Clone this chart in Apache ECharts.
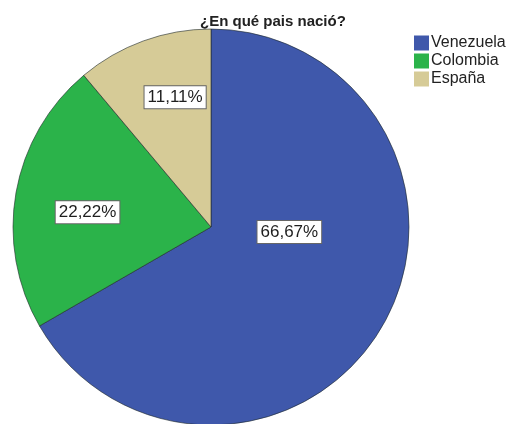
<!DOCTYPE html>
<html><head><meta charset="utf-8">
<script src="https://cdn.jsdelivr.net/npm/echarts@6/dist/echarts.min.js"></script>
<style>html,body{margin:0;padding:0;background:#fff}#c{width:514px;height:424px}</style>
</head><body><div id="c"></div>
<script>
const titleText = '¿En qué pais nació?';
const categories = ['Venezuela', 'Colombia', 'España'];
const values = [66.67, 22.22, 11.11];
const labels = ['66,67%', '22,22%', '11,11%'];
const colors = ['#3f58ab', '#2bb34a', '#d6cb97'];
const labelOffsets = [[-10, -46], [-23, 3], [-1, -34]];

const chart = echarts.init(document.getElementById('c'));
chart.setOption({
  animation: false,
  backgroundColor: '#fff',
  title: {
    text: titleText, left: 195, top: 9,
    textStyle: { fontFamily: 'Liberation Sans, Arial', fontSize: 15, fontWeight: 'bold', color: '#222' }
  },
  legend: {
    orient: 'vertical', left: 409, top: 30,
    itemWidth: 15, itemHeight: 15, itemGap: 2,
    icon: 'rect',
    itemStyle: { borderWidth: 0 },
    data: categories,
    textStyle: { fontFamily: 'Liberation Sans, Arial', fontSize: 16, color: '#222', padding: [0,0,0,-3] }
  },
  series: [{
    type: 'pie',
    center: [211, 227],
    radius: 198,
    startAngle: 90,
    clockwise: true,
    silent: true,
    itemStyle: { borderColor: 'rgba(30,40,40,0.75)', borderWidth: 0.8 },
    label: {
      position: 'inside',
      fontFamily: 'Liberation Sans, Arial', fontSize: 17, color: '#1e1e1e',
      backgroundColor: '#fff', borderColor: '#666', borderWidth: 1,
      padding: [3, 3, 2, 3]
    },
    labelLine: { show: false },
    data: categories.map((name, i) => ({
      name, value: values[i],
      itemStyle: { color: colors[i] },
      label: { formatter: labels[i], offset: labelOffsets[i] }
    }))
  }]
});
</script></body></html>
